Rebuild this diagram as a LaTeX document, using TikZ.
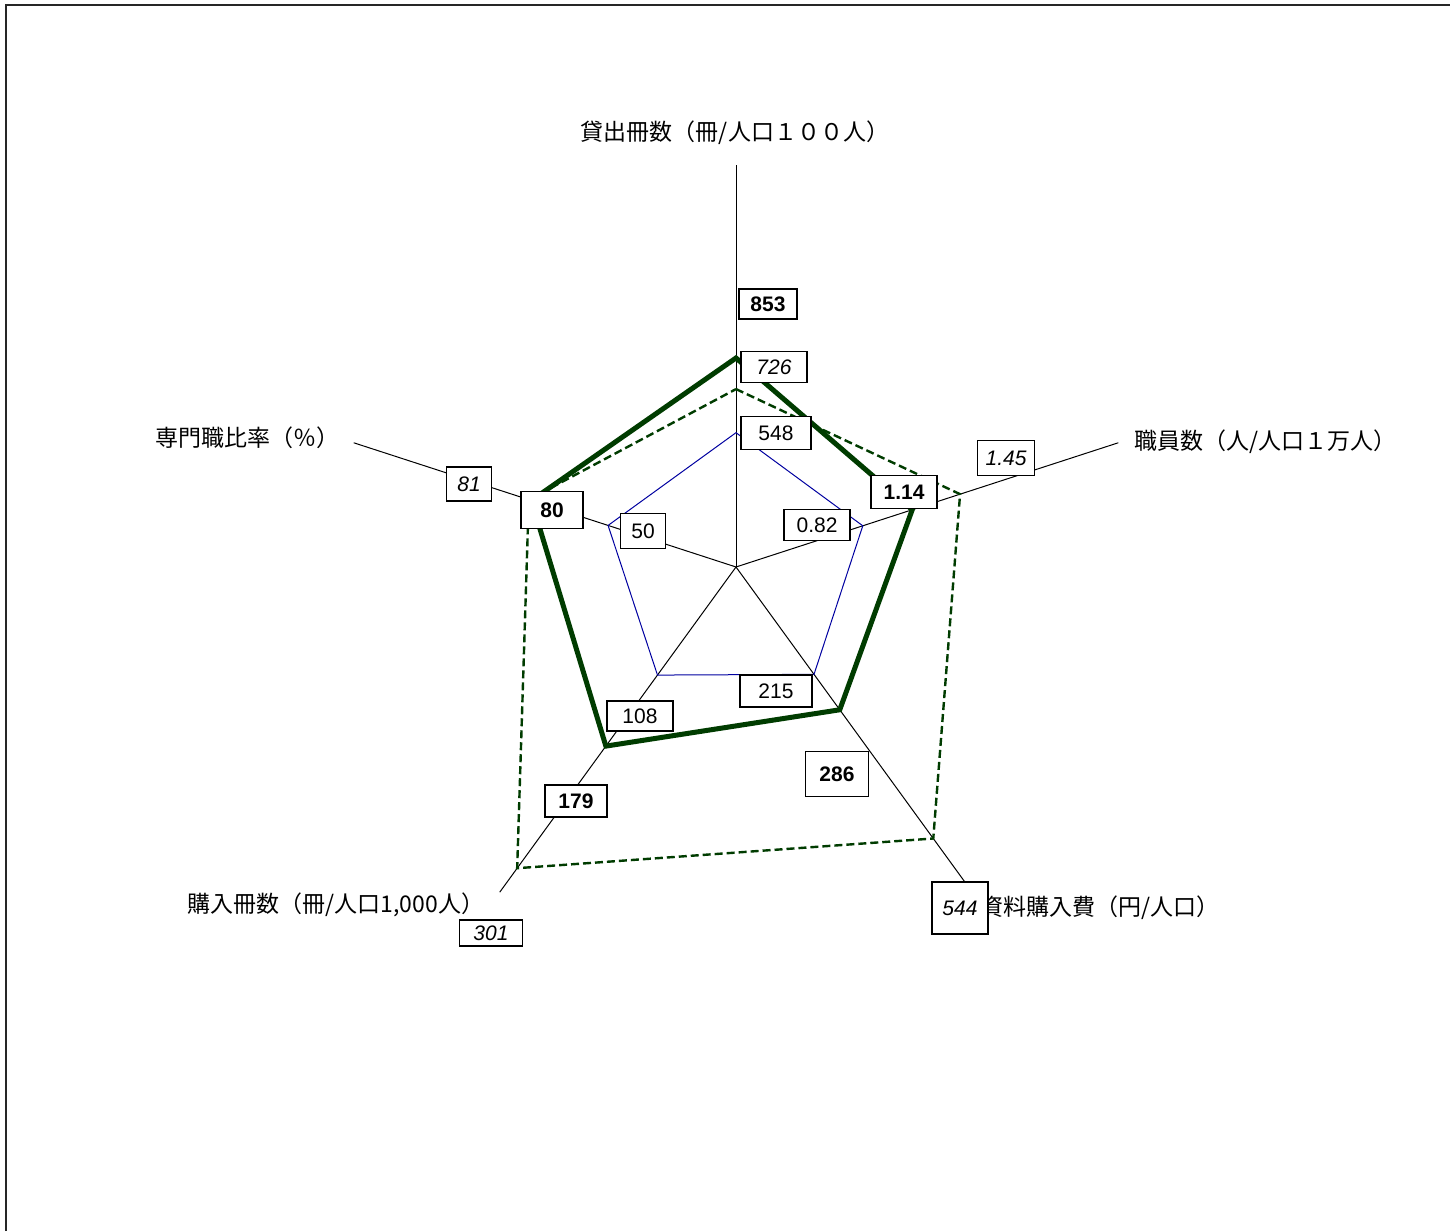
\documentclass[tikz,border=0pt]{standalone}
\usepackage{fontspec}
\setmainfont{Liberation Sans}
\newfontfamily\jpfont{Noto Sans CJK JP}
\definecolor{citygreen}{RGB}{0,60,0}
\definecolor{avgblue}{RGB}{0,0,160}

\begin{document}
\begin{tikzpicture}[x = 0.5pt, y = 0.5pt]
\tikzstyle{AxisStyle}=[black, line width = 0.5pt]
\tikzstyle{AvgStyle}=[avgblue, line width = 0.5pt]
\tikzstyle{MaxStyle}=[citygreen, line width = 1.2pt, dash pattern = on 4pt off 2pt]
\tikzstyle{CityStyle}=[citygreen, line width = 2.5pt]
\tikzstyle{ValBox}=[shape = rectangle, draw, fill = white,
                    line width = 0.6pt, inner sep = 1pt,
                    font = \fontsize{10.5}{12}\selectfont]
\tikzstyle{AxisLabel}=[inner sep = 0pt, font = \jpfont\fontsize{11.5}{13}\selectfont]
\useasboundingbox (0,0) rectangle (1450,1231);
\draw[line width = 0.8pt, black!85] (6,0) -- (6,1226) -- (1450,1226);
\coordinate (c) at (736,664);
% axes
\path (c) ++(90:402) coordinate (a1);
\path (c) ++(18:402) coordinate (a2);
\path (c) ++(-54:402) coordinate (a3);
\path (c) ++(-126:402) coordinate (a4);
\path (c) ++(162:402) coordinate (a5);
% average
\path (c) ++(90:134.3) coordinate (b1);
\path (c) ++(18:133.3) coordinate (b2);
\path (c) ++(-54:132.7) coordinate (b3);
\path (c) ++(-126:133.6) coordinate (b4);
\path (c) ++(162:134.5) coordinate (b5);
% maximum
\path (c) ++(90:177.9) coordinate (m1);
\path (c) ++(18:235.6) coordinate (m2);
\path (c) ++(-54:335.6) coordinate (m3);
\path (c) ++(-126:372.3) coordinate (m4);
\path (c) ++(162:217.9) coordinate (m5);
% city
\path (c) ++(90:209.0) coordinate (v1);
\path (c) ++(18:185.3) coordinate (v2);
\path (c) ++(-54:176.5) coordinate (v3);
\path (c) ++(-126:221.4) coordinate (v4);
\path (c) ++(162:215.2) coordinate (v5);
\foreach \i in {1,...,5}
  \draw[AxisStyle] (c) -- (a\i);
\draw[AvgStyle] (b1) -- (b2) -- (b3) -- (b4) -- (b5) -- cycle;
\draw[MaxStyle] (m1) -- (m2) -- (m3) -- (m4) -- (m5) -- cycle;
\draw[CityStyle] (v1) -- (v2) -- (v3) -- (v4) -- (v5) -- cycle;
% axis labels
\node[AxisLabel] (l1) at (735,1098) {貸出冊数（冊/人口１００人）};
\node[AxisLabel] (l2) at (1265,789) {職員数（人/人口１万人）};
\node[AxisLabel] (l3) at (1100,323) {資料購入費（円/人口）};
\node[AxisLabel] (l4) at (336,326) {購入冊数（冊/人口1,000人）};
\node[AxisLabel] (l5) at (247,793) {専門職比率（％）};
% values
\node[ValBox, minimum width = 29pt, minimum height = 15pt, font = \fontsize{10.5}{12}\bfseries] (t1) at (768,927) {853};
\node[ValBox, minimum width = 33pt, minimum height = 15.5pt, font = \fontsize{10.5}{12}\itshape] (x1) at (774,864) {726};
\node[ValBox, minimum width = 35pt, minimum height = 16.5pt] (s1) at (776,798) {548};
\node[ValBox, minimum width = 33pt, minimum height = 16.5pt, font = \fontsize{10.5}{12}\bfseries] (t2) at (904,739) {1.14};
\node[ValBox, minimum width = 33pt, minimum height = 15.5pt] (s2) at (817,706) {0.82};
\node[ValBox, minimum width = 28.5pt, minimum height = 17.5pt, font = \fontsize{10.5}{12}\itshape] (x2) at (1006,773) {1.45};
\node[ValBox, minimum width = 31.5pt, minimum height = 22.5pt, font = \fontsize{10.5}{12}\bfseries] (t3) at (837,457) {286};
\node[ValBox, minimum width = 36pt, minimum height = 16pt] (s3) at (776,540) {215};
\node[ValBox, minimum width = 28pt, minimum height = 26pt, font = \fontsize{10.5}{12}\itshape] (x3) at (960,323) {544};
\node[ValBox, minimum width = 31pt, minimum height = 16pt, font = \fontsize{10.5}{12}\bfseries] (t4) at (576,430) {179};
\node[ValBox, minimum width = 33pt, minimum height = 15pt] (s4) at (640,515) {108};
\node[ValBox, minimum width = 31.5pt, minimum height = 13pt, font = \fontsize{10.5}{12}\itshape] (x4) at (491,298) {301};
\node[ValBox, minimum width = 31pt, minimum height = 18.5pt, font = \fontsize{10.5}{12}\bfseries] (t5) at (552,721) {80};
\node[ValBox, minimum width = 22.5pt, minimum height = 17.5pt] (s5) at (643,700) {50};
\node[ValBox, minimum width = 22.5pt, minimum height = 17pt, font = \fontsize{10.5}{12}\itshape] (x5) at (469,747) {81};
\end{tikzpicture}
\end{document}
